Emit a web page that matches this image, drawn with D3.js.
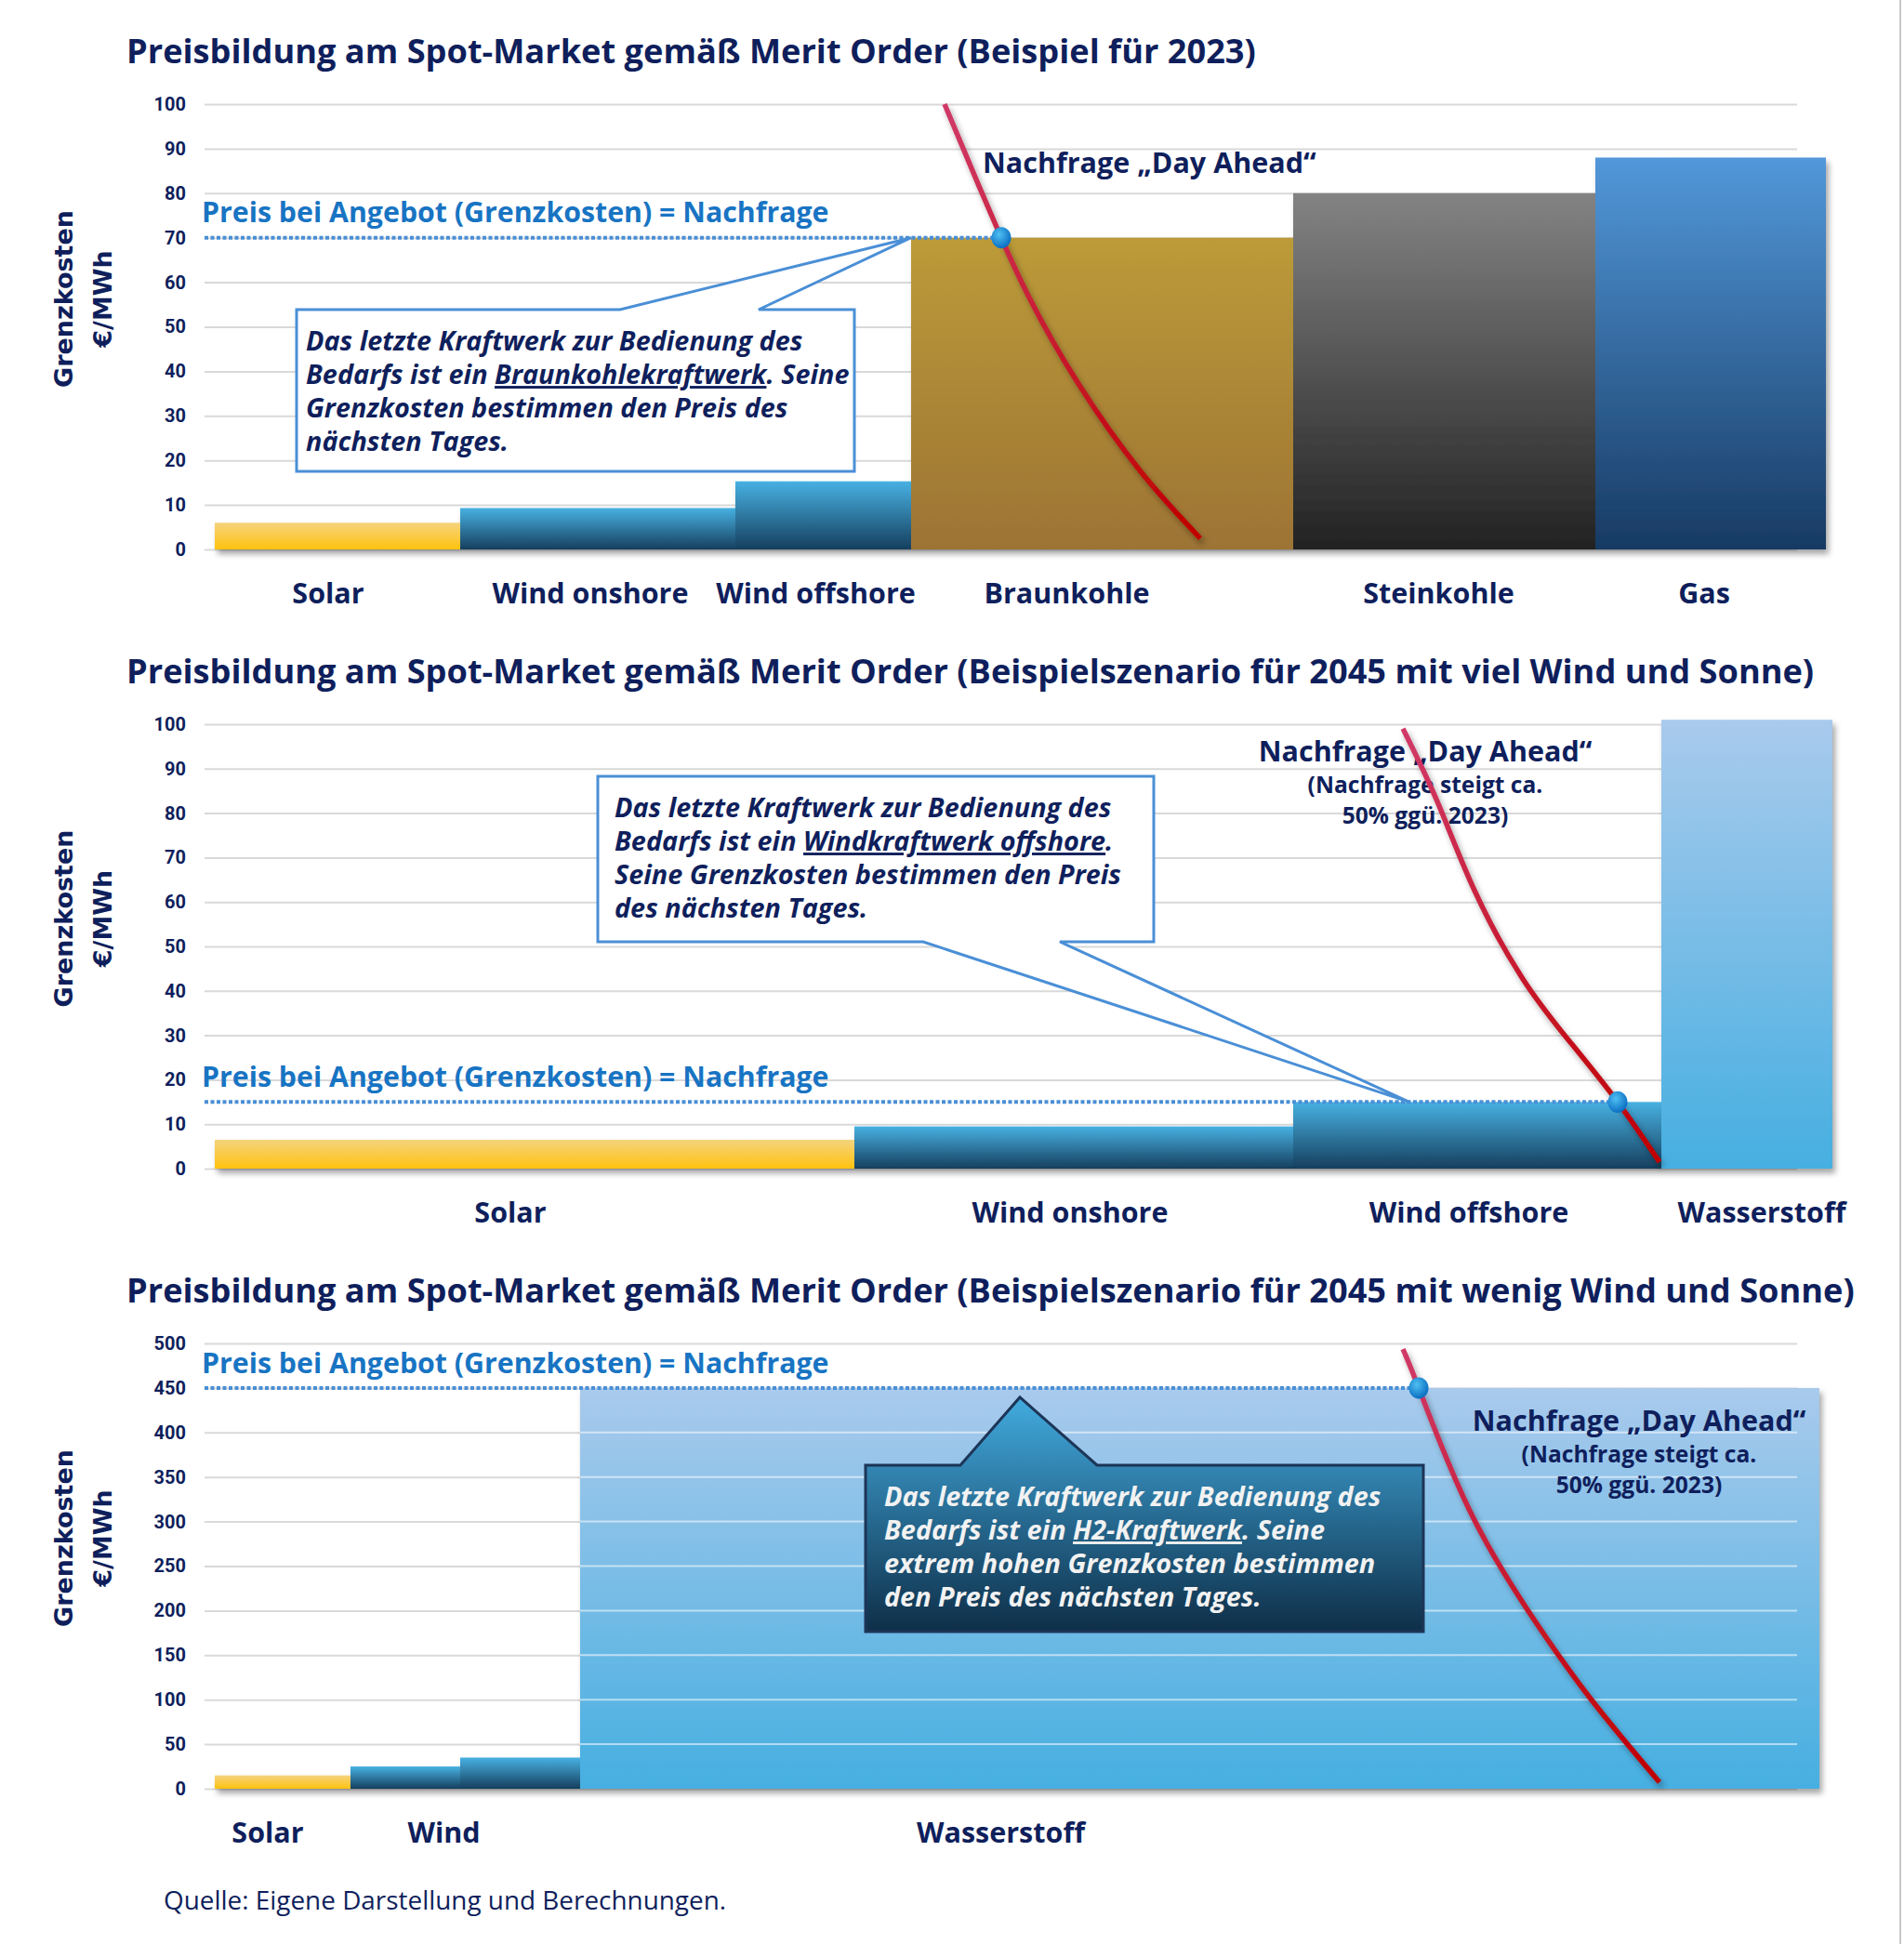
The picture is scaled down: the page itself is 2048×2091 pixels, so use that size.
<!DOCTYPE html>
<html>
<head>
<meta charset="utf-8">
<title>Merit Order</title>
<script src="https://cdn.jsdelivr.net/npm/d3@7"></script>
<style>
  body { margin: 0; background: #fff; }
  svg text { font-family: "Open Sans", Roboto, "Liberation Sans", sans-serif; }
</style>
</head>
<body>
<svg id="chart" width="2048" height="2091"></svg>
<script>
// ---------- data ----------
var titles = [
  "Preisbildung am Spot-Market gemäß Merit Order (Beispiel für 2023)",
  "Preisbildung am Spot-Market gemäß Merit Order (Beispielszenario für 2045 mit viel Wind und Sonne)",
  "Preisbildung am Spot-Market gemäß Merit Order (Beispielszenario für 2045 mit wenig Wind und Sonne)"
];

// chart 1: 2023
var cats1 = ["Solar", "Wind onshore", "Wind offshore", "Braunkohle", "Steinkohle", "Gas"];
var cap1 = [26.4, 29.6, 18.9, 41.1, 32.5, 24.8];       // capacity (arbitrary units)
var cost1 = [6, 9.3, 15.3, 70, 80, 88];                 // Grenzkosten €/MWh
var demand1 = [[78.5, 100], [82.2, 81.6], [84.6, 70], [87.6, 56.6], [92.9, 37.2], [99.6, 17.5], [106, 2.5]];
var clear1 = [84.6, 70];

// chart 2: 2045, viel Wind und Sonne
var cats2 = ["Solar", "Wind onshore", "Wind offshore", "Wasserstoff"];
var cap2 = [68.8, 47.2, 39.6, 18.4];
var cost2 = [6.5, 9.5, 15, 101];
var demand2 = [[127.8, 99], [131.5, 82.6], [135.5, 62.6], [140.7, 42.7], [145.9, 28.2], [150.9, 15], [155.4, 1.5]];
var clear2 = [150.9, 15];

// chart 3: 2045, wenig Wind und Sonne
var cats3 = ["Solar", "Wind", "Wind", "Wasserstoff"];
var cap3 = [14.6, 11.8, 12.9, 133.3];
var cost3 = [15, 25, 35, 450];
var demand3 = [[127.8, 493.7], [129.5, 450], [134.8, 316.3], [141.3, 199.4], [147.9, 102.3], [155.4, 7.3]];
var clear3 = [129.5, 450];

var ticks1 = [0, 10, 20, 30, 40, 50, 60, 70, 80, 90, 100];
var ticks3 = [0, 50, 100, 150, 200, 250, 300, 350, 400, 450, 500];

var priceLabel = "Preis bei Angebot (Grenzkosten) = Nachfrage";
var demandLabel = "Nachfrage \u201EDay Ahead\u201C";
var demandSub = ["(Nachfrage steigt ca.", "50% ggü. 2023)"];

var note1 = [
  [{t: "Das letzte Kraftwerk zur Bedienung des"}],
  [{t: "Bedarfs ist ein "}, {t: "Braunkohlekraftwerk", u: true}, {t: ". Seine"}],
  [{t: "Grenzkosten bestimmen den Preis des"}],
  [{t: "nächsten Tages."}]
];
var note2 = [
  [{t: "Das letzte Kraftwerk zur Bedienung des"}],
  [{t: "Bedarfs ist ein "}, {t: "Windkraftwerk offshore", u: true}, {t: "."}],
  [{t: "Seine Grenzkosten bestimmen den Preis"}],
  [{t: "des nächsten Tages."}]
];
var note3 = [
  [{t: "Das letzte Kraftwerk zur Bedienung des"}],
  [{t: "Bedarfs ist ein "}, {t: "H2-Kraftwerk", u: true}, {t: ". Seine"}],
  [{t: "extrem hohen Grenzkosten bestimmen"}],
  [{t: "den Preis des nächsten Tages."}]
];

// ---------- styles ----------
var navy = "#0f1f5c";
var blue = "#1874c3";
var lineBlue = "#4a8fd6";
var grads = {
  "Solar": ["#f5d37e", "#ffc20e"],
  "Wind onshore": ["#47b1e2", "#163f5e"],
  "Wind offshore": ["#47b1e2", "#163f5e"],
  "Wind": ["#47b1e2", "#163f5e"],
  "Braunkohle": ["#bc9b39", "#9d7334"],
  "Steinkohle": ["#838383", "#222222"],
  "Gas": ["#5298da", "#173a63"],
  "Wasserstoff": ["#a9caec", "#46afe1"]
};

var charts = [
  {title: titles[0], top: 112, bottom: 591, max: 100, ticks: ticks1,
   cats: cats1, cap: cap1, cost: cost1, demand: demand1, clear: clear1,
   labelDx: [-10, -8, -8, -38, -6, -7],
   dem: {x: 1057, y: 175, anchor: "start", sub: false},
   note: note1, box: {x: 319, y: 333, w: 600, h: 174, side: "top", b1: 667, b2: 816, tip: [74.9, 70], tx: 10, dark: false}},
  {title: titles[1], top: 779, bottom: 1257, max: 100, ticks: ticks1,
   cats: cats2, cap: cap2, cost: cost2, demand: demand2, clear: clear2,
   labelDx: [-26, -4, -9, 16],
   dem: {x: 1533, y: 808, anchor: "middle", sub: true},
   note: note2, box: {x: 643, y: 835, w: 598, h: 178, side: "bottom", b1: 993, b2: 1140, tip: [128.5, 15], tx: 18, dark: false}},
  {title: titles[2], top: 1445, bottom: 1924, max: 500, ticks: ticks3,
   cats: cats3, cap: cap3, cost: cost3, demand: demand3, clear: clear3,
   labelDx: [-16, -23, -214], gridOver: true,
   dem: {x: 1763, y: 1528, anchor: "middle", sub: true},
   note: note3, box: {x: 931, y: 1576, w: 600, h: 179, side: "top", b1: 1033, b2: 1180, tip: [86.6, 439.5], tx: 20, dark: true}}
];

var svg = d3.select("#chart");
var defs = svg.append("defs");

Object.keys(grads).forEach(function(k) {
  var g = defs.append("linearGradient").attr("id", "g-" + k.replace(/ /g, "_"))
    .attr("x1", 0).attr("y1", 0).attr("x2", 0).attr("y2", 1);
  g.append("stop").attr("offset", "0%").attr("stop-color", grads[k][0]);
  g.append("stop").attr("offset", "100%").attr("stop-color", grads[k][1]);
});
var dg = defs.append("linearGradient").attr("id", "g-dark").attr("x1", 0).attr("y1", 0).attr("x2", 0).attr("y2", 1);
dg.append("stop").attr("offset", "0%").attr("stop-color", "#42abdf");
dg.append("stop").attr("offset", "100%").attr("stop-color", "#0e2e48");
var rg = defs.append("radialGradient").attr("id", "g-dot").attr("cx", "40%").attr("cy", "35%").attr("r", "65%");
rg.append("stop").attr("offset", "0%").attr("stop-color", "#4fc0f2");
rg.append("stop").attr("offset", "100%").attr("stop-color", "#0b6ec2");

var sh = defs.append("filter").attr("id", "shadow").attr("x", "-10%").attr("y", "-10%").attr("width", "130%").attr("height", "130%");
sh.append("feDropShadow").attr("dx", 3).attr("dy", 5).attr("stdDeviation", 3)
  .attr("flood-color", "#000").attr("flood-opacity", 0.35);

// shared capacity scale
var x = d3.scaleLinear().domain([0, 175]).range([231, 1981]);
var gridL = 220, gridR = 1933;

charts.forEach(function(c, ci) {
  var y = d3.scaleLinear().domain([0, c.max]).range([c.bottom, c.top]);
  var g = svg.append("g");

  // title
  g.append("text").attr("x", 136).attr("y", c.top - 57).attr("dy", "0.35em")
    .attr("font-size", 36.2).attr("font-weight", 700).attr("fill", navy).text(c.title);

  // y axis title
  var mid = (c.top + c.bottom) / 2 - 30;
  [["Grenzkosten", 69], ["€/MWh", 111]].forEach(function(t) {
    g.append("text").attr("transform", "translate(" + t[1] + "," + mid + ") rotate(-90)")
      .attr("text-anchor", "middle").attr("dy", "0.35em")
      .style("font-family", "'DejaVu Sans', sans-serif")
      .attr("font-size", 27).attr("font-weight", 700).attr("fill", navy).text(t[0]);
  });

  // grid + tick labels
  var ax = g.append("g").attr("transform", "translate(" + gridL + ",0)")
    .call(d3.axisLeft(y).tickValues(c.ticks).tickSize(-(gridR - gridL)).tickPadding(20).tickFormat(d3.format("d")));
  ax.select(".domain").remove();
  ax.selectAll(".tick line").attr("stroke", "#d9d9d9").attr("stroke-width", 2);
  ax.selectAll(".tick text").attr("font-size", 20).attr("font-weight", 700).attr("fill", navy)
    .style("font-family", "Roboto, 'Liberation Sans', sans-serif");

  // bars
  var starts = [];
  var acc = 0;
  c.cap.forEach(function(v) { starts.push(acc); acc += v; });
  g.append("g").attr("filter", "url(#shadow)").selectAll("rect").data(c.cats).enter().append("rect")
    .attr("x", function(d, i) { return x(starts[i]); })
    .attr("width", function(d, i) { return x(starts[i] + c.cap[i]) - x(starts[i]); })
    .attr("y", function(d, i) { return y(c.cost[i]); })
    .attr("height", function(d, i) { return y(0) - y(c.cost[i]); })
    .attr("fill", function(d) { return "url(#g-" + d.replace(/ /g, "_") + ")"; });

  if (c.gridOver) {
    var last = c.cats.length - 1;
    g.append("g").selectAll("line").data(c.ticks.filter(function(t) { return t > 0 && t < c.cost[last]; }))
      .enter().append("line")
      .attr("x1", x(starts[last])).attr("x2", gridR)
      .attr("y1", function(t) { return y(t); }).attr("y2", function(t) { return y(t); })
      .attr("stroke", "#ffffff").attr("stroke-opacity", 0.55).attr("stroke-width", 2);
  }

  // category labels (merge repeated neighbours)
  var groups = [];
  c.cats.forEach(function(d, i) {
    var prev = groups[groups.length - 1];
    if (prev && prev.name === d) { prev.end = starts[i] + c.cap[i]; }
    else groups.push({name: d, start: starts[i], end: starts[i] + c.cap[i]});
  });
  g.append("g").selectAll("text").data(groups).enter().append("text")
    .attr("x", function(d, i) { return (x(d.start) + x(d.end)) / 2 + c.labelDx[i]; })
    .attr("y", y(0) + 47).attr("dy", "0.35em").attr("text-anchor", "middle")
    .attr("font-size", 30.5).attr("font-weight", 700).attr("fill", navy)
    .text(function(d) { return d.name; });

  // callout
  var b = c.box;
  var tip = [x(b.tip[0]), y(b.tip[1])];
  var p;
  if (b.side === "top") {
    p = "M" + b.x + "," + b.y + "H" + b.b1 + "L" + tip[0] + "," + tip[1] + "L" + b.b2 + "," + b.y +
        "H" + (b.x + b.w) + "V" + (b.y + b.h) + "H" + b.x + "Z";
  } else {
    p = "M" + b.x + "," + b.y + "H" + (b.x + b.w) + "V" + (b.y + b.h) + "H" + b.b2 +
        "L" + tip[0] + "," + tip[1] + "L" + b.b1 + "," + (b.y + b.h) + "H" + b.x + "Z";
  }
  g.append("path").attr("d", p)
    .attr("fill", b.dark ? "url(#g-dark)" : "#fff")
    .attr("stroke", b.dark ? "#1d3557" : lineBlue).attr("stroke-width", 3)
    .attr("stroke-linejoin", "miter");
  var nt = g.append("g");
  c.note.forEach(function(line, li) {
    var t = nt.append("text").attr("x", b.x + b.tx).attr("y", b.y + 34 + li * 36).attr("dy", "0.35em")
      .attr("font-size", 28.8).attr("font-weight", 700).attr("font-style", "italic")
      .attr("fill", b.dark ? "#f2f2f2" : navy);
    line.forEach(function(s) {
      t.append("tspan").text(s.t).style("text-decoration", s.u ? "underline" : null);
    });
  });

  // price line + label
  var py = y(c.clear[1]);
  g.append("line").attr("x1", gridL).attr("x2", x(c.clear[0])).attr("y1", py).attr("y2", py)
    .attr("stroke", lineBlue).attr("stroke-width", 4).attr("stroke-dasharray", "4 2.5");
  g.append("text").attr("x", 217).attr("y", py - 27).attr("dy", "0.35em")
    .attr("font-size", 30.3).attr("font-weight", 700).attr("fill", blue).text(priceLabel);

  // demand label
  var dm = g.append("text").attr("x", c.dem.x).attr("y", c.dem.y).attr("dy", "0.35em")
    .attr("text-anchor", c.dem.anchor).attr("font-size", 30.5).attr("font-weight", 700).attr("fill", navy);
  dm.text(demandLabel);
  if (c.dem.sub) {
    demandSub.forEach(function(s, si) {
      g.append("text").attr("x", c.dem.x).attr("y", c.dem.y + 36 + si * 33).attr("dy", "0.35em")
        .attr("text-anchor", "middle").attr("font-size", 24.6).attr("font-weight", 700).attr("fill", navy).text(s);
    });
  }

  // demand curve
  var yTop = y(c.demand[0][1]), yBot = y(c.demand[c.demand.length - 1][1]);
  var cg = defs.append("linearGradient").attr("id", "curve" + ci).attr("gradientUnits", "userSpaceOnUse")
    .attr("x1", 0).attr("x2", 0).attr("y1", yTop).attr("y2", yBot);
  cg.append("stop").attr("offset", "0%").attr("stop-color", "#d03a68");
  cg.append("stop").attr("offset", "100%").attr("stop-color", "#c00000");
  var line = d3.line().x(function(d) { return x(d[0]); }).y(function(d) { return y(d[1]); }).curve(d3.curveNatural);
  g.append("path").datum(c.demand).attr("d", line).attr("fill", "none")
    .attr("stroke", "url(#curve" + ci + ")").attr("stroke-width", 5.5).attr("filter", "url(#shadow)");

  // equilibrium point
  g.append("ellipse").attr("cx", x(c.clear[0])).attr("cy", py).attr("rx", 10.5).attr("ry", 11.5)
    .attr("fill", "url(#g-dot)");
});

// source + frame edge
svg.append("text").attr("x", 176).attr("y", 2044).attr("dy", "0.35em")
  .attr("font-size", 27.9).attr("fill", navy).text("Quelle: Eigene Darstellung und Berechnungen.");
svg.append("line").attr("x1", 2044).attr("x2", 2044).attr("y1", 0).attr("y2", 2091)
  .attr("stroke", "#c8c8c8").attr("stroke-width", 2);
</script>
</body>
</html>
